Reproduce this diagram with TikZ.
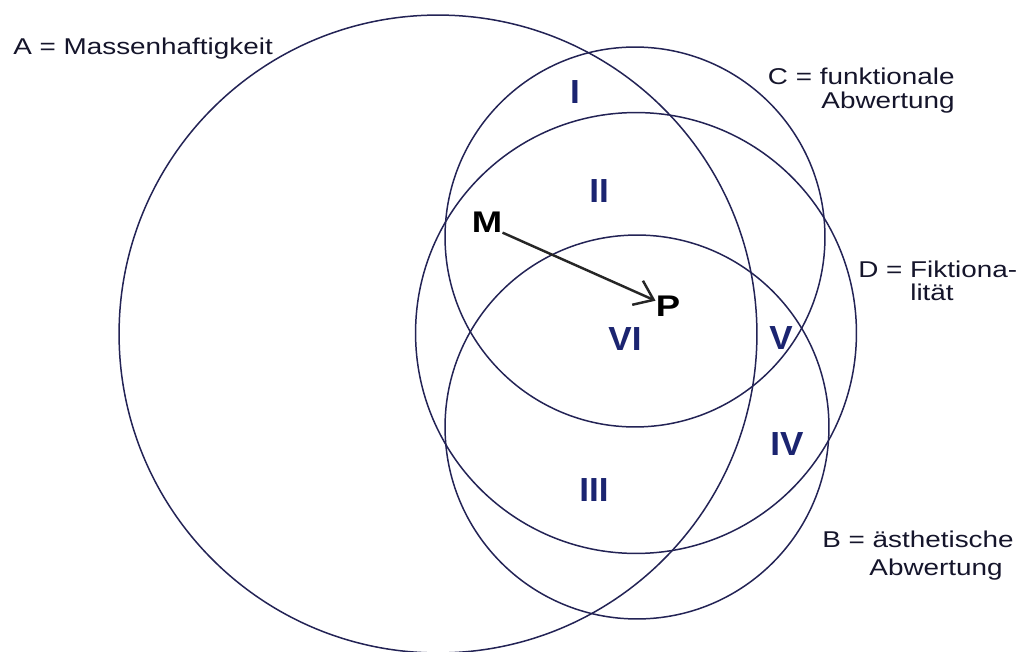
\documentclass[tikz,border=0pt]{standalone}
\usepackage{fontspec}
\setmainfont{Liberation Sans}
\newfontfamily\lab[FakeStretch=1.22]{Liberation Sans}
\newfontfamily\numf[FakeStretch=1.05]{Liberation Sans}
\usetikzlibrary{arrows.meta}
\definecolor{ink}{HTML}{232355}
\definecolor{labc}{HTML}{15152B}
\definecolor{numc}{HTML}{1B2470}
\begin{document}
\begin{tikzpicture}[x=0.02cm,y=-0.02cm,
  ring/.style={draw=ink, line width=0.85pt},
  lbl/.style={font=\lab\fontsize{13}{14}\selectfont, text=labc, inner sep=0pt},
  roman/.style={font=\numf\bfseries\fontsize{19}{19}\selectfont, text=numc, inner sep=0pt},
  ptlab/.style={font=\lab\bfseries\fontsize{17}{17}\selectfont, text=black, inner sep=0pt},
  move/.style={draw=black!85, line width=1.4pt, -{Straight Barb[length=10pt,width=15pt,line width=1.4pt]}}]
\useasboundingbox (0,0) rectangle (1022,652);
\fill[white] (0,0) rectangle (1022,652);
% circles
\draw[ring] (438,334) circle[radius=6.38cm];   % A
\draw[ring] (635,237) circle[radius=3.80cm];   % C
\draw[ring] (636,333) circle[radius=4.41cm];   % D
\draw[ring] (637,427) circle[radius=3.84cm];   % B
% labels
\node[lbl, anchor=base west] (la) at (13,55) {A = Massenhaftigkeit};
\node[lbl, anchor=base east] (lc1) at (955,85) {C = funktionale};
\node[lbl, anchor=base east] (lc2) at (955,109) {Abwertung};
\node[lbl, anchor=base west] (ld1) at (858,277) {D = Fiktiona-};
\node[lbl, anchor=base west] (ld2) at (910,300) {lität};
\node[lbl, anchor=base west] (lb1) at (822,547) {B = ästhetische};
\node[lbl, anchor=base east] (lb2) at (1003,575) {Abwertung};
% region numerals
\node[roman] (r1) at (575,92) {I};
\node[roman] (r2) at (599,191) {II};
\node[roman] (r6) at (625,339) {VI};
\node[roman] (r5) at (781,338) {V};
\node[roman] (r4) at (787,444) {IV};
\node[roman] (r3) at (594,490) {III};
% M -> P
\node[ptlab] (m) at (487,222) {M};
\node[ptlab] (p) at (668,306) {P};
\draw[move] (m.south east) -- ([yshift=3pt]p.west);
\end{tikzpicture}
\end{document}
